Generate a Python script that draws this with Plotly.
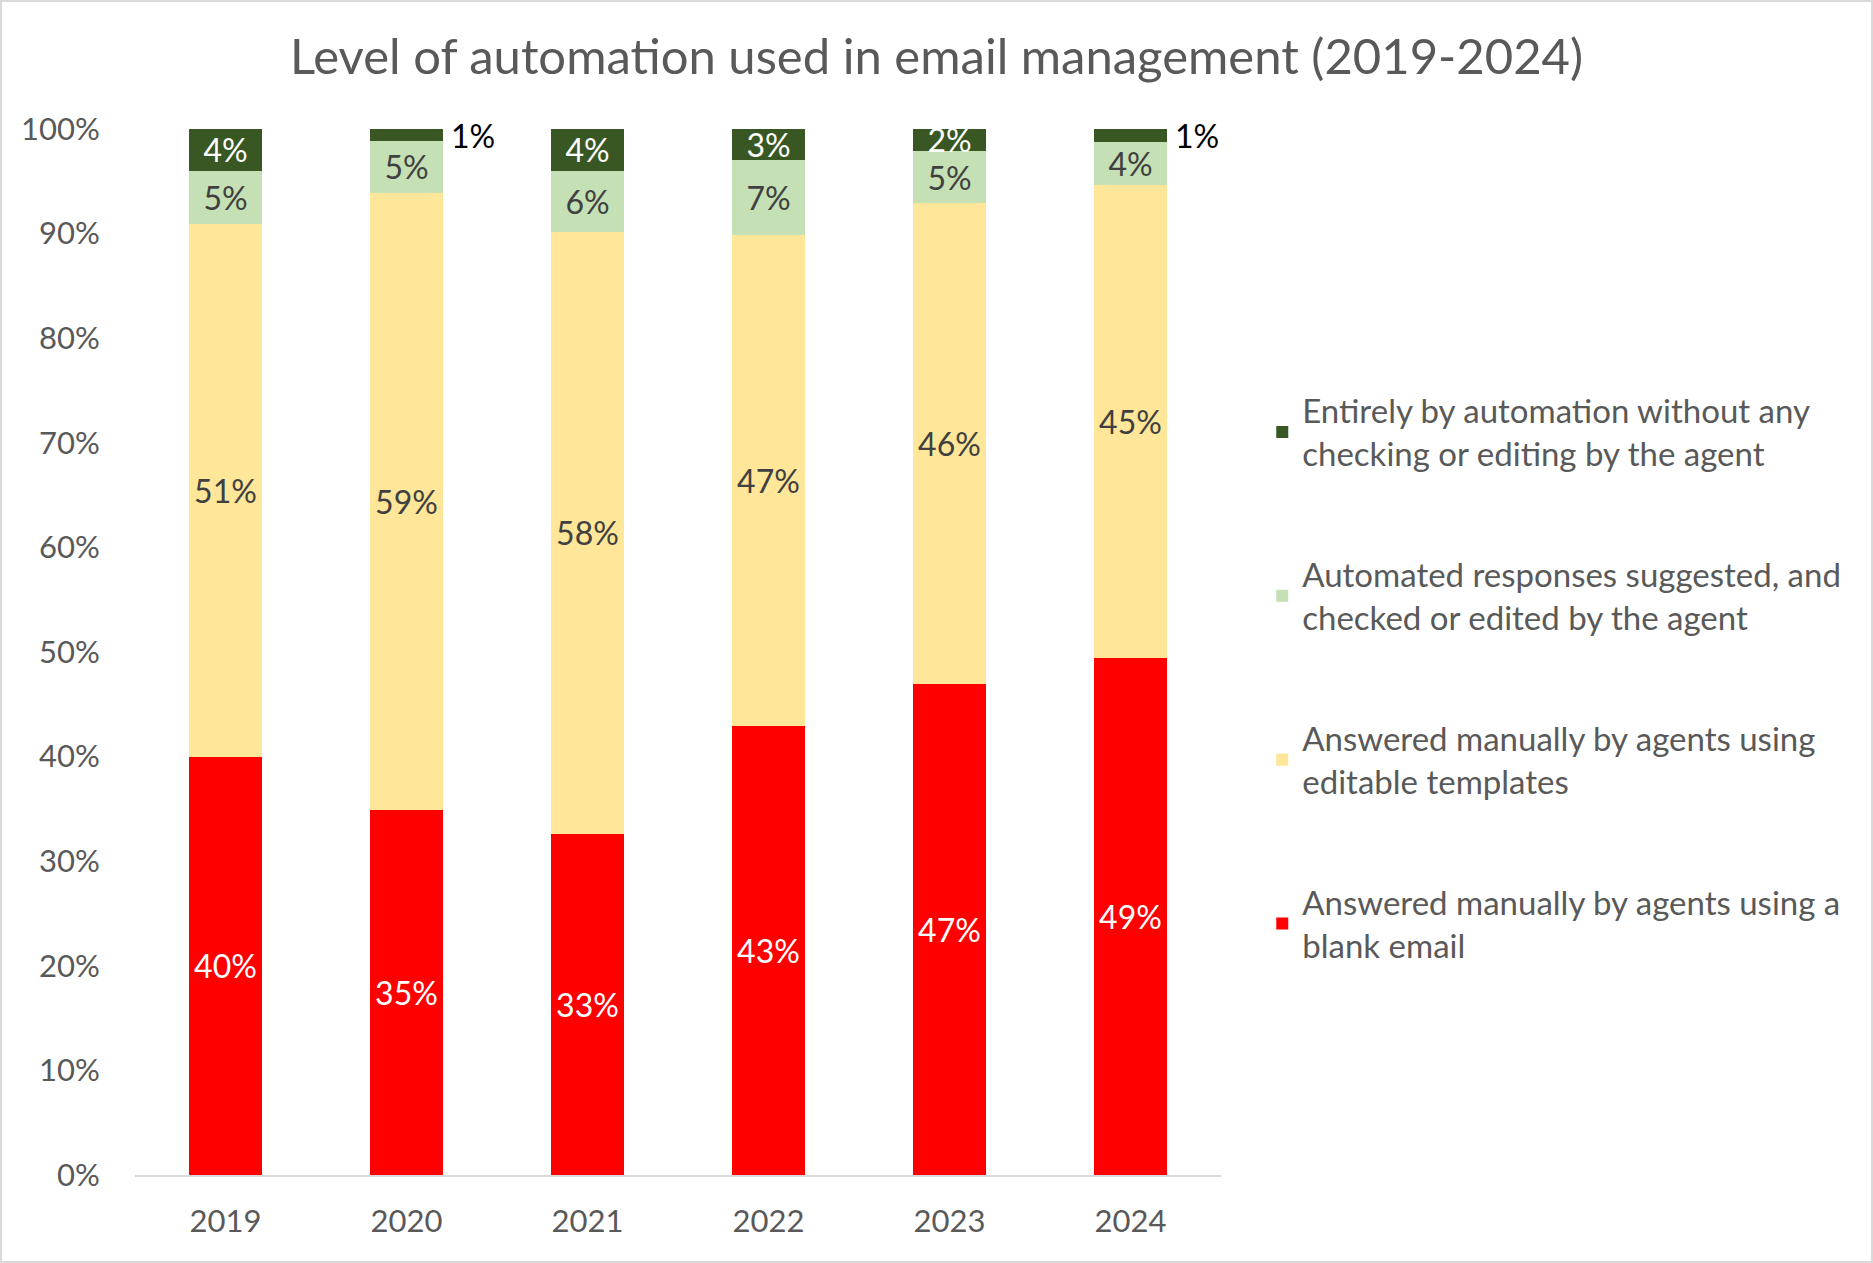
import plotly.graph_objects as go

years = ["2019", "2020", "2021", "2022", "2023", "2024"]
blank_email = [40.0, 34.9, 32.6, 42.9, 46.9, 49.4]
templates = [50.9, 59.0, 57.6, 47.0, 46.0, 45.2]
suggested = [5.1, 5.0, 5.8, 7.1, 5.0, 4.2]
fully_auto = [4.0, 1.1, 4.0, 3.0, 2.1, 1.2]

series_names = [
    "Answered manually by agents using a<br>blank email",
    "Answered manually by agents using<br>editable templates",
    "Automated responses suggested, and<br>checked or edited by the agent",
    "Entirely by automation without any<br>checking or editing by the agent",
]
colors = ["#FF0000", "#FFE699", "#C5E0B4", "#385723"]
label_colors = ["#FFFFFF", "#404040", "#404040", "#FFFFFF"]
series = [blank_email, templates, suggested, fully_auto]

FONT = "Lato"
W, H = 1873, 1263
ml, mr, mt, mb = 135, 652, 129, 88

fig = go.Figure()
for i, (name, vals) in enumerate(zip(series_names, series)):
    positions = ["inside"] * len(vals)
    if i == 3:
        positions = ["inside" if round(v) > 1 else "none" for v in vals]
    fig.add_trace(go.Bar(
        x=years, y=vals, name=name,
        marker=dict(color=colors[i], line=dict(width=0)),
        text=[f"{round(v)}%" for v in vals],
        textposition=positions,
        insidetextanchor="middle",
        textangle=0,
        textfont=dict(color=label_colors[i], size=32, family=FONT),
        legendgroup=f"g{i}",
        legendrank=4 - i,
        hoverinfo="skip",
    ))

# Outside labels for very small top segments (category axis -> index positions)
totals = [sum(s[j] for s in series) for j in range(len(years))]
for j, v in enumerate(fully_auto):
    if round(v) <= 1:
        fig.add_annotation(
            x=j, y=totals[j], text=f"{round(v)}%",
            showarrow=False, xanchor="left", yanchor="top",
            xshift=42, yshift=15,
            font=dict(color="#000000", size=32, family=FONT),
        )

pw = W - ml - mr
ph = H - mt - mb
fig.add_shape(type="rect", xref="paper", yref="paper",
              x0=-(ml - 1) / pw, x1=1 + (mr - 1) / pw,
              y0=-(mb - 1) / ph, y1=1 + (mt - 1) / ph,
              line=dict(color="#D9D9D9", width=2), fillcolor="rgba(0,0,0,0)",
              layer="below")

fig.update_layout(
    width=W, height=H,
    margin=dict(l=ml, r=mr, t=mt, b=mb),
    paper_bgcolor="white", plot_bgcolor="white",
    barmode="stack", bargap=0.6,
    title=dict(text="Level of automation used in email management (2019-2024)",
               x=0.5, xref="container", xanchor="center", y=1 - 57 / H, yanchor="middle",
               font=dict(size=49, color="#595959", family=FONT)),
    font=dict(family=FONT, color="#595959"),
    uniformtext=dict(minsize=32, mode="show"),
    showlegend=True,
    legend=dict(x=1.038, xanchor="left", y=0.475, yanchor="middle",
                traceorder="grouped", tracegroupgap=75,
                font=dict(size=33, color="#595959", family=FONT),
                bgcolor="rgba(0,0,0,0)"),
    xaxis=dict(type="category", showgrid=False, showline=True, linecolor="#D9D9D9", linewidth=2,
               ticks="outside", ticklen=18, tickcolor="rgba(0,0,0,0)",
               tickfont=dict(size=31, color="#595959", family=FONT)),
    yaxis=dict(range=[0, 100], showgrid=False, zeroline=False, showline=False,
               tickvals=list(range(0, 101, 10)),
               ticktext=[f"{v}%" for v in range(0, 101, 10)],
               ticks="outside", ticklen=28, tickcolor="rgba(0,0,0,0)",
               tickfont=dict(size=31, color="#595959", family=FONT)),
)

fig.write_html("out.html")
